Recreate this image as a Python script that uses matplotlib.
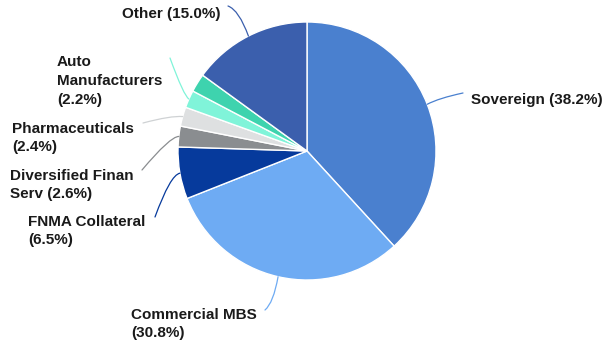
import matplotlib
matplotlib.use('Agg')
import matplotlib.pyplot as plt
import numpy as np

# sector weights (clockwise from 12 o'clock)
sectors = ['Sovereign', 'Commercial MBS', 'FNMA Collateral', 'Diversified Finan Serv',
           'Pharmaceuticals', 'Auto Manufacturers', '', 'Other']
weights = [38.2, 30.8, 6.5, 2.6, 2.4, 2.2, 2.3, 15.0]
colors = ['#4a80cf', '#6eabf3', '#063a9c', '#8a8d90',
          '#dee0e1', '#80f4d9', '#3ed3ae', '#3b5fad']

# label text, text anchor, leader start point, leader angles
labels = {
    'Sovereign': ('Sovereign (38.2%)', (471, 247), (463, 254), (12, 28)),
    'Commercial MBS': ('Commercial MBS\n(30.8%)', (131, 23), (265, 37), (40, 80)),
    'FNMA Collateral': ('FNMA Collateral\n(6.5%)', (28, 116), (155, 130), (70, 10)),
    'Diversified Finan Serv': ('Diversified Finan\nServ (2.6%)', (10, 162), (142, 177), (50, 0)),
    'Pharmaceuticals': ('Pharmaceuticals\n(2.4%)', (12, 209), (143, 224), (15, -5)),
    'Auto Manufacturers': ('Auto\nManufacturers\n(2.2%)', (57, 266), (170, 289), (-70, -30)),
    'Other': ('Other (15.0%)', (122, 333), (228, 341), (-20, -70)),
}

center = (307, 196)
radius = 129

fig = plt.figure(figsize=(6.08, 3.47), dpi=100)
ax = fig.add_axes([0, 0, 1, 1])

wedges, _ = ax.pie(weights, colors=colors, center=center, radius=radius,
                   startangle=90, counterclock=False, frame=True,
                   wedgeprops=dict(edgecolor='white', linewidth=1))

for w, name, c in zip(wedges, sectors, colors):
    if name not in labels:
        continue
    txt, pos, start, (a, b) = labels[name]
    mid = np.deg2rad((w.theta1 + w.theta2) / 2)
    edge = (center[0] + radius * np.cos(mid), center[1] + radius * np.sin(mid))
    line_c = c if name != 'Pharmaceuticals' else '#cfd2d4'
    ax.annotate('', xy=edge, xytext=start,
                arrowprops=dict(arrowstyle='-', color=line_c, lw=0.9,
                                shrinkA=0, shrinkB=0,
                                connectionstyle='angle3,angleA=%d,angleB=%d' % (a, b)))
    ax.text(pos[0], pos[1], txt, ha='left', va='center', fontsize=11,
            fontweight='bold', family='Liberation Sans', color='#1a1a1a',
            linespacing=1.45)

ax.set_xlim(0, 608)
ax.set_ylim(0, 347)
ax.set_aspect('equal')
ax.axis('off')

fig.savefig('out.png', dpi=100, facecolor='white')
